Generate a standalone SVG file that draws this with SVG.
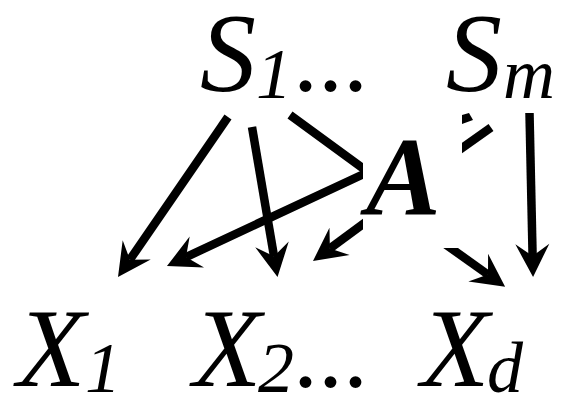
<svg xmlns="http://www.w3.org/2000/svg" width="584" height="394" viewBox="0 0 584 394">
<style>
.t{font-family:"Liberation Serif","Times New Roman",serif;font-style:italic;fill:#000}
.big{font-size:112px}
.sub{font-size:72px}
.dots{font-size:100px;font-style:normal}
.bold{font-weight:bold}
.e{stroke:#000;stroke-width:8.5;fill:none;stroke-linecap:butt;stroke-linejoin:miter}
.bg{fill:#fff}
</style>
<defs>
<marker id="ah" markerUnits="userSpaceOnUse" viewBox="-34 -18 35 36" markerWidth="35" markerHeight="36" refX="-21" refY="0" orient="auto">
<path d="M0,0 L-33,-17 L-21,0 L-33,17 Z" fill="#000"/>
</marker>
</defs>
<rect width="584" height="394" fill="#fff"/>
<g id="connectors">
<line class="e" x1="228" y1="117" x2="129.9" y2="259.7" marker-end="url(#ah)"/>
<line class="e" x1="252" y1="127" x2="274" y2="256.3" marker-end="url(#ah)"/>
<polyline class="e" points="290,115 368,172 186,257.1" marker-end="url(#ah)"/>
<line class="e" x1="378" y1="213" x2="329.9" y2="248.5" marker-end="url(#ah)"/>
<line class="e" x1="445" y1="244" x2="488" y2="274.6" marker-end="url(#ah)"/>
<line class="e" x1="529.5" y1="113" x2="532.6" y2="256" marker-end="url(#ah)"/>
<line class="e" x1="491" y1="127.5" x2="455" y2="153"/>
<polygon points="462,115 469,113 473,120 462,124" fill="#000"/>
</g>
<g id="node-S1">
<text class="t big" x="200" y="91">S</text>
<text class="t sub" x="256" y="98">1</text>
<text class="t dots" x="293" y="91">...</text>
</g>
<g id="node-Sm">
<text class="t big" x="446" y="91">S</text>
<text class="t sub" x="503" y="98">m</text>
</g>
<g id="node-A">
<rect class="bg" x="363" y="113" width="99" height="135"/>
<text class="t big bold" x="366" y="215">A</text>
</g>
<g id="node-X1">
<text class="t big" x="17" y="386">X</text>
<text class="t sub" x="85" y="392">1</text>
</g>
<g id="node-X2">
<text class="t big" x="193" y="386">X</text>
<text class="t sub" x="258" y="392">2</text>
<text class="t dots" x="293" y="387">...</text>
</g>
<g id="node-Xd">
<text class="t big" x="421" y="386">X</text>
<text class="t sub" x="487" y="392">d</text>
</g>
</svg>
